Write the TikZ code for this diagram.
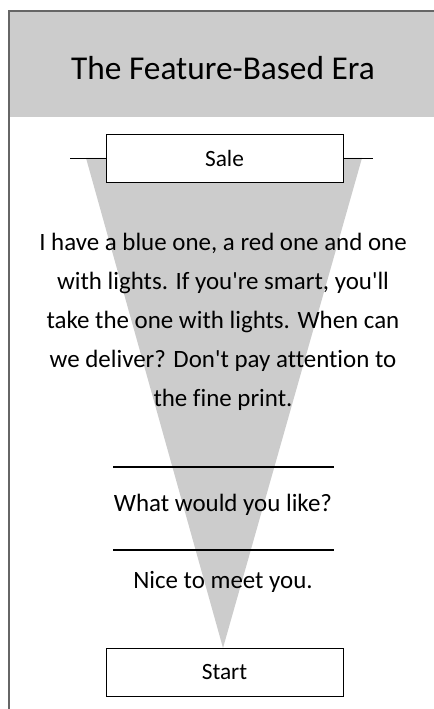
\documentclass[tikz,border=0pt]{standalone}
\usepackage{fontspec}
\setmainfont{Carlito}[Ligatures={TeX,NoCommon}]
\definecolor{funnelgray}{HTML}{CCCCCC}
\definecolor{framegray}{HTML}{666666}
\begin{document}
\begin{tikzpicture}[
  x=0.75pt, y=-0.75pt,
  stage/.style={draw, fill=white, align=center, minimum width=177.75pt, minimum height=36pt, inner sep=0pt, font=\fontsize{17.5}{20}\selectfont},
  small/.style={align=center, font=\fontsize{18.7}{29.25}\selectfont},
  rule/.style={line width=0.8pt}
]
\useasboundingbox (0,0) rectangle (434,709);
% header band and frame
\fill[funnelgray] (9,11) rectangle (434,117);
\draw[framegray, line width=1.2pt] (434,11) -- (9,11) -- (9,709);
\node[font=\fontsize{25}{30}\selectfont] (title) at (223,68) {The Feature-Based Era};
% funnel
\coordinate (fl) at (86,158);
\coordinate (fr) at (362,158);
\coordinate (tip) at (223,648);
\fill[funnelgray] (fl) -- (fr) -- (tip) -- cycle;
\node[stage] (sale) at (224.5,158) {Sale};
\coordinate (wl) at (70,158);
\coordinate (wr) at (373,158);
\draw (wl) -- (sale.west);
\draw (sale.east) -- (wr);
\node[small] (pitch) at (223,322) {I have a blue one, a red one and one\\with lights. If you\textquotesingle re smart, you\textquotesingle ll\\take the one with lights. When can\\we deliver? Don\textquotesingle t pay attention to\\the fine print.};
\coordinate (r1l) at (113,467);
\coordinate (r1r) at (334,467);
\draw[rule] (r1l) -- (r1r);
\node[small] (ask) at (223,505) {What would you like?};
\coordinate (r2l) at (113,550);
\coordinate (r2r) at (334,550);
\draw[rule] (r2l) -- (r2r);
\node[small] (greet) at (223,582) {Nice to meet you.};
\node[stage] (start) at (224.5,672) {Start};
\end{tikzpicture}
\end{document}
